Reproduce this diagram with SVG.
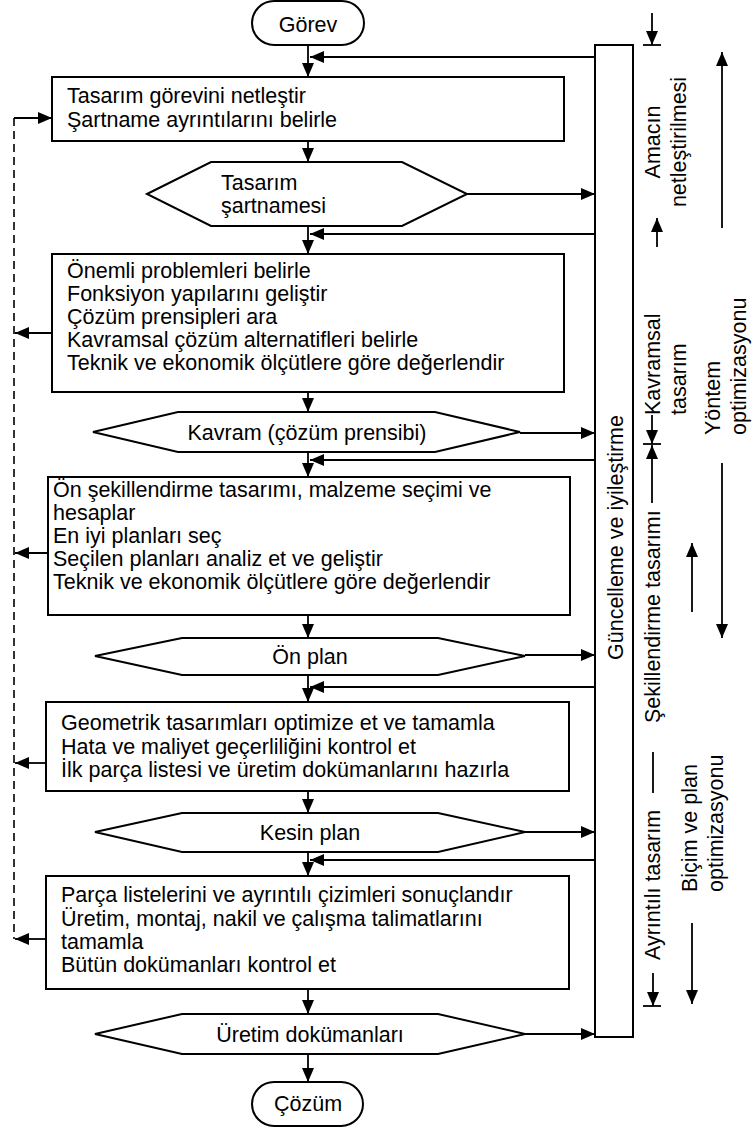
<svg xmlns="http://www.w3.org/2000/svg" width="753" height="1128" viewBox="0 0 753 1128">
<defs>
<marker id="ah" markerUnits="userSpaceOnUse" markerWidth="14" markerHeight="12" refX="14" refY="6" orient="auto">
<path d="M0,0 L14,6 L0,12 z" fill="#000"/>
</marker>
<style>
text{font-family:"Liberation Sans",Arial,sans-serif;font-size:21.5px;fill:#000}
.box{fill:#fff;stroke:#000;stroke-width:2}
.c{fill:none;stroke:#000;stroke-width:1.8}
.a{fill:none;stroke:#000;stroke-width:1.8;marker-end:url(#ah)}
.d{fill:none;stroke:#000;stroke-width:1.6;stroke-dasharray:8 5}
.m{text-anchor:middle}
</style>
</defs>
<rect width="753" height="1128" fill="#fff"/>

<g id="connectors">
<path class="a" d="M308,45 V77"/>
<path class="a" d="M308,142 V162"/>
<path class="a" d="M308,226 V254"/>
<path class="a" d="M308,392 V412"/>
<path class="a" d="M308,452 V477"/>
<path class="a" d="M308,615 V638"/>
<path class="a" d="M308,675 V702"/>
<path class="a" d="M308,791 V813"/>
<path class="a" d="M308,852 V876"/>
<path class="a" d="M308,989 V1014"/>
<path class="a" d="M308,1054 V1082"/>
<path class="a" d="M595,57 H310"/>
<path class="a" d="M595,234 H310"/>
<path class="a" d="M595,460 H310"/>
<path class="a" d="M595,687 H310"/>
<path class="a" d="M595,860 H310"/>
<path class="a" d="M467,194 H595"/>
<path class="a" d="M520,433 H595"/>
<path class="a" d="M525,655 H595"/>
<path class="a" d="M525,832 H595"/>
<path class="a" d="M525,1034 H595"/>
<path class="d" d="M14,118 V939"/>
<path class="a" d="M14,118 H52"/>
<path class="a" d="M52,333 H15"/>
<path class="a" d="M48,553 H15"/>
<path class="a" d="M46,763 H15"/>
<path class="a" d="M46,939 H15"/>
</g>

<g id="start">
<rect class="box" x="252" y="1" width="112" height="44" rx="22"/>
<text class="m" x="308" y="32">Görev</text>
</g>

<g id="box1">
<rect class="box" x="52" y="77" width="512" height="64"/>
<text x="67" y="103">Tasarım görevini netleştir</text>
<text x="67" y="127">Şartname ayrıntılarını belirle</text>
</g>

<g id="hex1">
<polygon class="box" points="147,194 211,162 402,162 467,194 402,226 211,226"/>
<text x="221" y="190">Tasarım</text>
<text x="221" y="213">şartnamesi</text>
</g>

<g id="box2">
<rect class="box" x="52" y="254" width="512" height="138"/>
<text x="67" y="278">Önemli problemleri belirle</text>
<text x="67" y="301">Fonksiyon yapılarını geliştir</text>
<text x="67" y="324">Çözüm prensipleri ara</text>
<text x="67" y="347">Kavramsal çözüm alternatifleri belirle</text>
<text x="67" y="370">Teknik ve ekonomik ölçütlere göre değerlendir</text>
</g>

<g id="hex2">
<polygon class="box" points="93,432 178,412 435,412 520,432 435,452 178,452"/>
<text class="m" x="307" y="440">Kavram (çözüm prensibi)</text>
</g>

<g id="box3">
<rect class="box" x="48" y="477" width="522" height="138"/>
<text x="53" y="497">Ön şekillendirme tasarımı, malzeme seçimi ve</text>
<text x="53" y="520">hesaplar</text>
<text x="53" y="543">En iyi planları seç</text>
<text x="53" y="566">Seçilen planları analiz et ve geliştir</text>
<text x="53" y="589">Teknik ve ekonomik ölçütlere göre değerlendir</text>
</g>

<g id="hex3">
<polygon class="box" points="95,656 182,638 438,638 525,656 438,675 182,675"/>
<text class="m" x="310" y="664">Ön plan</text>
</g>

<g id="box4">
<rect class="box" x="46" y="702" width="523" height="89"/>
<text x="61" y="730">Geometrik tasarımları optimize et ve tamamla</text>
<text x="61" y="754">Hata ve maliyet geçerliliğini kontrol et</text>
<text x="61" y="777">İlk parça listesi ve üretim dokümanlarını hazırla</text>
</g>

<g id="hex4">
<polygon class="box" points="95,832 182,813 438,813 525,832 438,852 182,852"/>
<text class="m" x="310" y="840">Kesin plan</text>
</g>

<g id="box5">
<rect class="box" x="46" y="876" width="523" height="113"/>
<text x="61" y="902">Parça listelerini ve ayrıntılı çizimleri sonuçlandır</text>
<text x="61" y="926">Üretim, montaj, nakil ve çalışma talimatlarını</text>
<text x="61" y="949">tamamla</text>
<text x="61" y="972">Bütün dokümanları kontrol et</text>
</g>

<g id="hex5">
<polygon class="box" points="95,1034 182,1014 438,1014 525,1034 438,1054 182,1054"/>
<text class="m" x="310" y="1042">Üretim dokümanları</text>
</g>

<g id="end">
<rect class="box" x="252" y="1082" width="111" height="44" rx="22"/>
<text class="m" x="308" y="1111">Çözüm</text>
</g>

<g id="update-bar">
<rect class="box" x="595" y="45" width="38" height="992"/>
<text transform="translate(623,660) rotate(-90)">Güncelleme ve iyileştirme</text>
</g>

<g id="phases">
<path class="a" d="M652,13 V45"/>
<path class="c" d="M643,45 H661"/>
<text class="m" transform="translate(660,142) rotate(-90)">Amacın</text>
<text class="m" transform="translate(686,142) rotate(-90)">netleştirilmesi</text>
<path class="a" d="M657,247 V218"/>
<text transform="translate(660,415) rotate(-90)">Kavramsal</text>
<text transform="translate(686,415) rotate(-90)">tasarım</text>
<path class="a" d="M652,415 V444"/>
<path class="c" d="M643,444 H661"/>
<path class="a" d="M652,503 V445"/>
<text transform="translate(660,723) rotate(-90)">Şekillendirme tasarımı</text>
<path class="c" d="M653,752 V793"/>
<text transform="translate(660,960) rotate(-90)">Ayrıntılı tasarım</text>
<path class="a" d="M653,973 V1006"/>
<path class="c" d="M643,1006 H661"/>
</g>

<g id="optimization">
<path class="a" d="M722,228 V52"/>
<text transform="translate(720,435) rotate(-90)">Yöntem</text>
<text transform="translate(746,435) rotate(-90)">optimizasyonu</text>
<path class="a" d="M722,463 V638"/>
<path class="a" d="M692,612 V543"/>
<text transform="translate(697,892) rotate(-90)">Biçim ve plan</text>
<text transform="translate(723,892) rotate(-90)">optimizasyonu</text>
<path class="a" d="M692,923 V1004"/>
</g>
</svg>
